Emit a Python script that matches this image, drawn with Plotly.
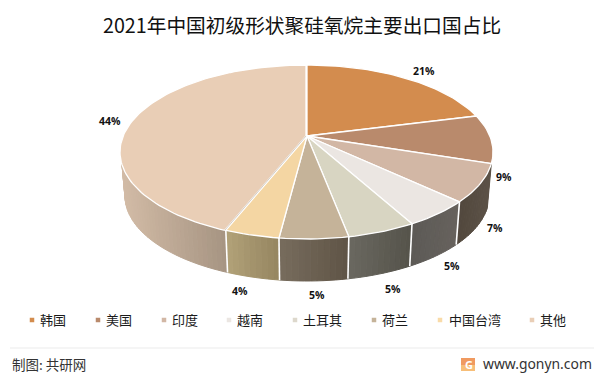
import math
import plotly.graph_objects as go

title = "2021年中国初级形状聚硅氧烷主要出口国占比"
categories = ["韩国", "美国", "印度", "越南", "土耳其", "荷兰", "中国台湾", "其他"]
values = [21, 9, 7, 5, 5, 5, 4, 44]
top_colors = ["#D38C4E", "#B98A6C", "#D2B7A5", "#EBE6E2", "#D8D5C2", "#C5B399", "#F4D6A3", "#E9CEB6"]
legend_colors = ["#D38C4E", "#B98A6C", "#D2B7A5", "#EBE6E2", "#DDD8CC", "#C5B399", "#F9DBA8", "#E9CEB6"]
side_left = [None, None, "#51473D", "#5C5A56", "#6A6860", "#776C5D", "#B1A178", "#D2BBA6"]
side_right = [None, None, "#5C5247", "#67625D", "#55534A", "#5F5446", "#958560", "#A69482"]
label_x = [424, 504, 495, 452, 393, 317, 240, 110]
label_y = [71, 177, 228, 266, 289, 295, 291, 121]
legend_marker_x = [32, 98, 164, 229, 295, 374, 440, 532]
legend_text_x = [39, 105, 171, 236, 302, 381, 448, 539]

CX, CY, RX, RY = 307.0, 152.0, 186.0, 87.0
BCX, BCY, BRX, BRY = 307.0, 196.0, 182.0, 85.0
A = 0.184


def rim(theta, cx=CX, cy=CY, rx=RX, ry=RY):
    u, v = math.sin(theta), math.cos(theta)
    d = 1 + A * v
    s = (v + A) / d
    up = u * math.sqrt(1 - A * A) / d
    return cx + rx * up, cy - ry * s


def hexmix(c1, c2, t):
    a = [int(c1[i:i + 2], 16) for i in (1, 3, 5)]
    b = [int(c2[i:i + 2], 16) for i in (1, 3, 5)]
    return "rgb(%d,%d,%d)" % tuple(round(p + (q - p) * t) for p, q in zip(a, b))


def frange(a, b, n):
    return [a + (b - a) * i / n for i in range(n + 1)]


total = sum(values)
edges = [0.0]
for val in values:
    edges.append(edges[-1] + val / total * 2 * math.pi)

fig = go.Figure()


def poly(xs, ys, fill, line="rgba(0,0,0,0)", width=0.0):
    fig.add_trace(go.Scatter(x=xs, y=ys, mode="lines", fill="toself", fillcolor=fill,
                             line=dict(color=line, width=width), hoverinfo="skip", showlegend=False))


def stroke(xs, ys, color="#FFFFFF", width=1.4):
    fig.add_trace(go.Scatter(x=xs, y=ys, mode="lines", line=dict(color=color, width=width),
                             hoverinfo="skip", showlegend=False))


left_limit = 2 * math.pi - math.acos(-A)
for i in range(2, len(values)):
    t0, t1 = edges[i], edges[i + 1]
    if i == len(values) - 1:
        t1 = left_limit
    n = max(6, int((t1 - t0) / math.radians(1.5)))
    ang = frange(t0, t1, n)
    xa = [rim(t)[0] for t in ang]
    lo, hi = min(xa), max(xa)
    for j in range(n):
        p1, p2 = rim(ang[j]), rim(ang[j + 1])
        q1, q2 = rim(ang[j], BCX, BCY, BRX, BRY), rim(ang[j + 1], BCX, BCY, BRX, BRY)
        mid = ((p1[0] + p2[0]) / 2 - lo) / (hi - lo)
        c = hexmix(side_left[i], side_right[i], mid)
        poly([p1[0], p2[0], q2[0], q1[0], p1[0]], [p1[1], p2[1], q2[1], q1[1], p1[1]], c, c, 1.0)
for k in range(3, len(values)):
    p, q = rim(edges[k]), rim(edges[k], BCX, BCY, BRX, BRY)
    stroke([p[0], q[0]], [p[1], q[1]], width=1.6)

hx, hy = CX, CY - A * RY
for i in range(len(values)):
    dx = -1.0 if i == len(values) - 1 else 0.0
    ang = frange(edges[i], edges[i + 1], max(4, int((edges[i + 1] - edges[i]) / math.radians(1.5))))
    pts = [rim(t) for t in ang]
    xs = [hx + dx] + [p[0] + dx for p in pts] + [hx + dx]
    ys = [hy] + [p[1] for p in pts] + [hy]
    poly(xs, ys, top_colors[i], "#FFFFFF", 1.3)

# thin grey seam between the last two slices
p = rim(edges[7])
stroke([hx - 1.0, p[0] - 1.0], [hy, p[1]], color="#B8AFA2", width=0.6)

for val, x, y in zip(values, label_x, label_y):
    fig.add_annotation(x=x, y=y, text=f"{val}%", showarrow=False, xanchor="center", yanchor="middle",
                       font=dict(family="Open Sans, Noto Sans", size=10.5, color="#111111", weight="bold"))

fig.add_trace(go.Scatter(x=legend_marker_x, y=[320] * len(categories), mode="markers",
                         marker=dict(symbol="square", size=4.5, color=legend_colors, line=dict(width=0)),
                         hoverinfo="skip", showlegend=False))
CJK = "Noto Sans CJK SC, Noto Sans"
for name, x in zip(categories, legend_text_x):
    fig.add_annotation(x=x, y=319, text=name, showarrow=False, xanchor="left", yanchor="middle", xshift=-1,
                       font=dict(family=CJK, size=13, color="#1A1A1A"))

fig.add_annotation(x=302, y=24.5, text=title, showarrow=False, xanchor="center", yanchor="middle",
                   font=dict(family=CJK, size=19.7, color="#111111"))
fig.add_annotation(x=10, y=364, text="制图: 共研网", showarrow=False, xanchor="left", yanchor="middle",
                   font=dict(family=CJK, size=13.5, color="#333333"))
fig.add_annotation(x=594, y=363, text="www.gonyn.com", showarrow=False, xanchor="right", yanchor="middle",
                   font=dict(family="Noto Sans", size=13.9, color="#333333"))
fig.add_annotation(x=468.5, y=364.5, text="<b>G</b>", showarrow=False, xanchor="center", yanchor="middle",
                   font=dict(family="Noto Sans", size=11, color="#FFFFFF"))

fig.update_layout(
    width=604, height=376, margin=dict(l=0, r=0, t=0, b=0),
    paper_bgcolor="#FFFFFF", plot_bgcolor="#FFFFFF",
    xaxis=dict(range=[0, 604], visible=False, fixedrange=True),
    yaxis=dict(range=[376, 0], visible=False, fixedrange=True),
    shapes=[
        dict(type="line", x0=10, x1=594, y0=348, y1=348, line=dict(color="#EBEBEB", width=1)),
        dict(type="rect", x0=461, x1=475, y0=358, y1=365, fillcolor="#F09A60", line=dict(width=0), layer="below"),
        dict(type="rect", x0=461, x1=475, y0=365, y1=371, fillcolor="#F7BE78", line=dict(width=0), layer="below"),
    ],
)
fig.write_html("out.html", config={"displayModeBar": False},
               post_script="document.body.style.margin='0';document.documentElement.style.overflow='hidden';")
